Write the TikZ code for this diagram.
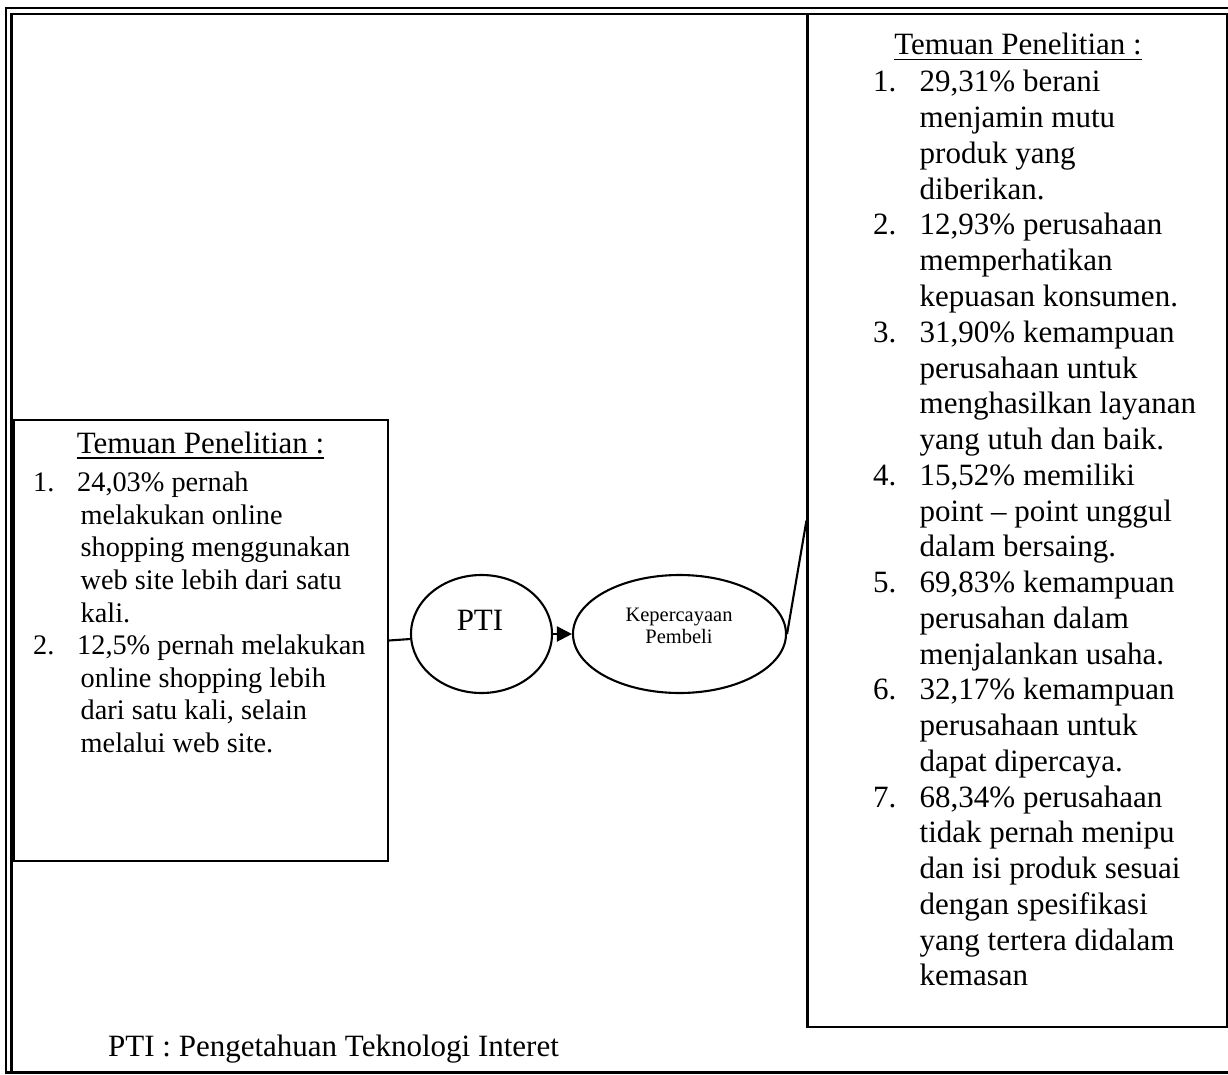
\documentclass[tikz,border=0pt]{standalone}
\usepackage{fontspec}
\setmainfont{Liberation Serif}
\usetikzlibrary{shapes.geometric,arrows.meta}
\tikzset{
  ln/.style={line width=2.1pt, draw=black},
  boxn/.style={ln, rectangle, inner sep=0pt},
  ell/.style={ln, ellipse, inner sep=0pt, minimum width=141pt, minimum height=118pt},
  bigt/.style={inner sep=0pt, anchor=base west, font=\fontsize{31}{35.75}\selectfont},
  smallt/.style={inner sep=0pt, anchor=base west, font=\fontsize{28.3}{32.6}\selectfont},
  titlet/.style={inner sep=0pt, anchor=base, font=\fontsize{31}{35.75}\selectfont},
  ul/.style={line width=1.6pt},
}
\begin{document}
\begin{tikzpicture}[x=1pt,y=-1pt]
\useasboundingbox (0,0) rectangle (1228,1075);
% outer frame (double on left/top)
\draw[line width=2.2pt] (6,1072.5) -- (6,7.8) -- (1228,7.8);
\draw[line width=2.6pt] (11.2,1072.5) -- (11.2,14) -- (1228,14);
\draw[line width=2.6pt] (5,1072.5) -- (1228,1072.5);
% boxes
\node[boxn, minimum width=374.5pt, minimum height=441pt] (lbox) at (200.75,640.5) {};
\node[boxn, minimum width=419.5pt, minimum height=1013pt] (rbox) at (1017.25,520.5) {};
% ellipses
\node[ell] (pti) at (481.5,634) {};
\node[ell, minimum width=213pt] (kep) at (679.5,634) {};
\node[inner sep=0pt, anchor=base, font=\fontsize{31}{35}\selectfont] (ptit) at (480,630) {PTI};
\node[inner sep=0pt, anchor=base, font=\fontsize{20.5}{23.6}\selectfont] (kept1) at (679,621) {Kepercayaan};
\node[inner sep=0pt, anchor=base, font=\fontsize{20.5}{23.6}\selectfont] (kept2) at (679,643) {Pembeli};
% connectors
\draw[ln] (lbox.east) -- (pti);
\draw[ln, -{Triangle[length=15pt, width=15pt]}] (pti) -- (kep);
\draw[ln] (kep.east) -- (rbox.west);
% left box text
\node[titlet] (lt) at (200.5,453.5) {Temuan Penelitian :};
\draw[ul] ([yshift=-4.5pt]lt.base west) -- ([yshift=-4.5pt]lt.base east);
\node[smallt] (ln1) at (33,491.7) {1.};
\node[smallt] (l0) at (77,491.7) {24,03\% pernah};
\node[smallt] (l1) at (80.5,524.3) {melakukan online};
\node[smallt] (l2) at (80.5,556.9) {shopping menggunakan};
\node[smallt] (l3) at (80.5,589.5) {web site lebih dari satu};
\node[smallt] (l4) at (80.5,622.1) {kali.};
\node[smallt] (ln2) at (33,654.7) {2.};
\node[smallt] (l5) at (77,654.7) {12,5\% pernah melakukan};
\node[smallt] (l6) at (80.5,687.3) {online shopping lebih};
\node[smallt] (l7) at (80.5,719.9) {dari satu kali, selain};
\node[smallt] (l8) at (80.5,752.5) {melalui web site.};
% right box text
\node[titlet] (rt) at (1018,55) {Temuan Penelitian :};
\draw[ul] ([yshift=-4.5pt]rt.base west) -- ([yshift=-4.5pt]rt.base east);
\node[bigt] (rn1) at (873,92) {1.};
\node[bigt] (r0) at (919.5,92) {29,31\% berani};
\node[bigt] (r1) at (919.5,127.75) {menjamin mutu};
\node[bigt] (r2) at (919.5,163.5) {produk yang};
\node[bigt] (r3) at (919.5,199.25) {diberikan.};
\node[bigt] (rn2) at (873,235) {2.};
\node[bigt] (r4) at (919.5,235) {12,93\% perusahaan};
\node[bigt] (r5) at (919.5,270.75) {memperhatikan};
\node[bigt] (r6) at (919.5,306.5) {kepuasan konsumen.};
\node[bigt] (rn3) at (873,342.25) {3.};
\node[bigt] (r7) at (919.5,342.25) {31,90\% kemampuan};
\node[bigt] (r8) at (919.5,378) {perusahaan untuk};
\node[bigt] (r9) at (919.5,413.75) {menghasilkan layanan};
\node[bigt] (r10) at (919.5,449.5) {yang utuh dan baik.};
\node[bigt] (rn4) at (873,485.25) {4.};
\node[bigt] (r11) at (919.5,485.25) {15,52\% memiliki};
\node[bigt] (r12) at (919.5,521) {point – point unggul};
\node[bigt] (r13) at (919.5,556.75) {dalam bersaing.};
\node[bigt] (rn5) at (873,592.5) {5.};
\node[bigt] (r14) at (919.5,592.5) {69,83\% kemampuan};
\node[bigt] (r15) at (919.5,628.25) {perusahan dalam};
\node[bigt] (r16) at (919.5,664) {menjalankan usaha.};
\node[bigt] (rn6) at (873,699.75) {6.};
\node[bigt] (r17) at (919.5,699.75) {32,17\% kemampuan};
\node[bigt] (r18) at (919.5,735.5) {perusahaan untuk};
\node[bigt] (r19) at (919.5,771.25) {dapat dipercaya.};
\node[bigt] (rn7) at (873,807) {7.};
\node[bigt] (r20) at (919.5,807) {68,34\% perusahaan};
\node[bigt] (r21) at (919.5,842.75) {tidak pernah menipu};
\node[bigt] (r22) at (919.5,878.5) {dan isi produk sesuai};
\node[bigt] (r23) at (919.5,914.25) {dengan spesifikasi};
\node[bigt] (r24) at (919.5,950) {yang tertera didalam};
\node[bigt] (r25) at (919.5,985.75) {kemasan};
% footer
\node[bigt] (foot) at (108,1056.7) {PTI : Pengetahuan Teknologi Interet};
\end{tikzpicture}
\end{document}
